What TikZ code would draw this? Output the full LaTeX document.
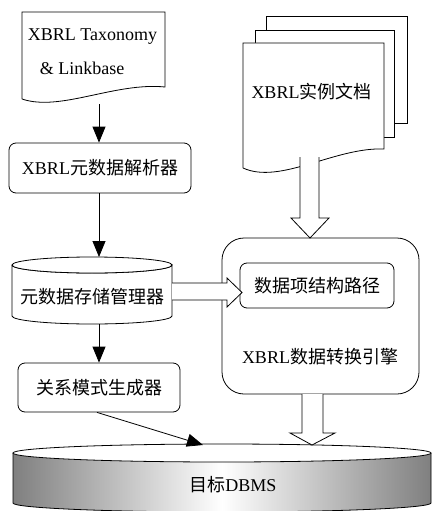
\documentclass[tikz,border=0pt]{standalone}
\usepackage{fontspec}
\setmainfont{Liberation Serif}
\newfontfamily\cjk{Noto Sans CJK SC}
\usetikzlibrary{arrows.meta}
\begin{document}
\begin{tikzpicture}[x=1pt,y=-1pt,line width=0.8pt,
  txt/.style={font=\fontsize{18}{21}\selectfont, inner sep=0pt},
  rbox/.style={draw, rounded corners=7pt, minimum width=#1, inner sep=0pt},
  tip/.style={-{Triangle[length=16pt,width=13pt]}},
  hollow/.style={draw, fill=white, line width=0.8pt}]
\useasboundingbox (0,0) rectangle (432,511);
% --- taxonomy document
\draw[fill=white] (22,99) -- (22,12) -- (165,12) -- (165,87)
  .. controls (115,82) and (60,112) .. (22,99);
\node[txt] (tax1) at (92.5,37) {XBRL Taxonomy};
\node[txt] (tax2) at (82,68) {\& Linkbase};
\coordinate (taxb) at (99,104);
% --- parser box
\node[rbox=182pt, minimum height=50pt, txt] (parser) at (100,168) {XBRL{\cjk 元数据解析器}};
% --- metadata store cylinder
\draw[fill=white] (12,265) -- (12,316) arc[start angle=180,end angle=0,x radius=80,y radius=8]
  -- (172,265) arc[start angle=0,end angle=180,x radius=80,y radius=8];
\draw[fill=white] (92,265) ellipse[x radius=80,y radius=8];
\coordinate (storetop) at (99,257);
\coordinate (storebot) at (99,324);
\node[txt] (store) at (92,297) {\cjk 元数据存储管理器};
% --- relation schema box
\node[rbox=162pt, minimum height=49pt, txt] (schema) at (99,387.5) {\cjk 关系模式生成器};
% --- instance documents
\draw[fill=white] (266,123) rectangle (407,16);
\draw[fill=white] (255,137) rectangle (394,30);
\draw[fill=white] (243,168) -- (243,43) -- (384,43) -- (384,149)
  .. controls (335,147) and (280,185) .. (243,168);
\node[txt] (inst) at (311.5,92) {XBRL{\cjk 实例文档}};
% --- engine box
\node[draw, rounded corners=22pt, minimum width=197pt, minimum height=156pt] (engine) at (320.5,316) {};
\node[txt] (engtxt) at (320,357) {XBRL{\cjk 数据转换引擎}};
\node[rbox=154pt, minimum height=45pt, txt] (path) at (317,285.5) {\cjk 数据项结构路径};
% --- target DBMS
\path[left color=black!50, right color=black!50, middle color=white]
  (13,453) -- (13,503) arc[start angle=180,end angle=0,x radius=209,y radius=9]
  -- (431,453) arc[start angle=0,end angle=180,x radius=209,y radius=9];
\draw (13,453) -- (13,503) arc[start angle=180,end angle=0,x radius=209,y radius=9]
  -- (431,453);
\draw[fill=white] (222,453) ellipse[x radius=209,y radius=9];
\node[txt] (dbms) at (233,485) {{\cjk 目标}DBMS};
\coordinate (dbtop) at (203,445);
% --- hollow arrows
\path[hollow] (300,157) -- (300,218) -- (291,218) -- (310,238) -- (329,218) -- (319,218) -- (319,157);
\path[hollow] (172,283) -- (227,283) -- (227,278) -- (242,292.5) -- (227,307) -- (227,300) -- (172,300);
\path[hollow] (302,394) -- (302,433) -- (290,433) -- (312,445) -- (335,433) -- (323,433) -- (323,394);
% --- connectors
\draw[tip] (taxb) -- (parser.north -| taxb);
\draw[tip] (parser.south -| storetop) -- (storetop);
\draw[tip] (storebot) -- (schema.north -| storebot);
\draw[tip] ([xshift=-2pt]schema.south) -- (dbtop);
\end{tikzpicture}
\end{document}
